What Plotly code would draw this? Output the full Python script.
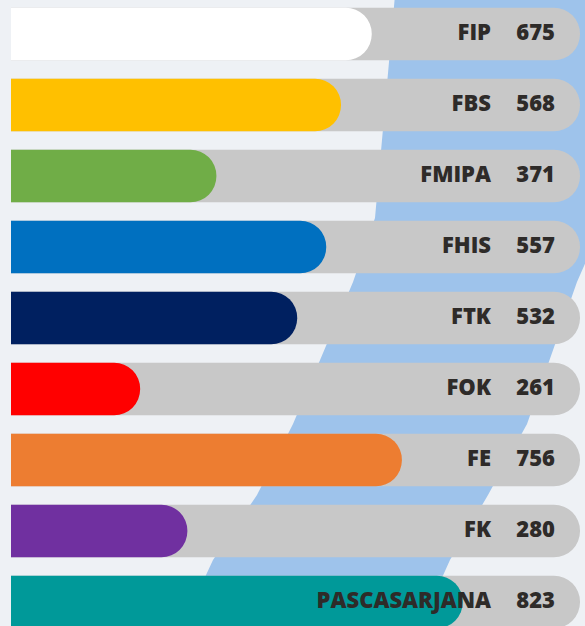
import plotly.graph_objects as go

# ---- data ----
faculties = ["FIP", "FBS", "FMIPA", "FHIS", "FTK", "FOK", "FE", "FK", "PASCASARJANA"]
counts = [675, 568, 371, 557, 532, 261, 756, 280, 823]
# length of the coloured fill, as % of the grey track (as drawn in the infographic)
bar_fill_pct = [63.4, 58.0, 36.1, 55.4, 50.3, 22.7, 68.7, 31.0, 79.4]
track_pct = [100] * len(faculties)

colors = ["#ffffff", "#ffc000", "#70ad47", "#0070c0", "#002060",
          "#ff0000", "#ed7d31", "#7030a0", "#009999"]

W, H = 585, 626
L, R = 11, 5
PW = W - L - R


def px_to_paper_x(px):
    return (px - L) / PW


def px_to_paper_y(py):
    return 1 - py / H


fig = go.Figure()

# grey tracks
fig.add_trace(go.Bar(
    y=faculties, x=track_pct, orientation="h",
    marker=dict(color="#c8c8c8", cornerradius="50%", line=dict(width=0)),
    width=0.74, hoverinfo="skip", showlegend=False, yaxis="y",
))
# coloured fills (on an overlaid axis so they are drawn independently)
fig.add_trace(go.Bar(
    y=faculties, x=bar_fill_pct, orientation="h",
    marker=dict(color=colors, cornerradius="50%", line=dict(width=0)),
    width=0.74, hoverinfo="skip", showlegend=False, yaxis="y2",
))

font = dict(family="Open Sans", size=22, color="#2e2b29", weight=800)
label_x = (491 - L) / PW * 100
num_x = (555 - L) / PW * 100

fig.add_trace(go.Scatter(
    y=faculties, x=[label_x] * len(faculties), mode="text",
    text=faculties, textposition="middle left", textfont=font,
    hoverinfo="skip", showlegend=False, yaxis="y2",
))
fig.add_trace(go.Scatter(
    y=faculties, x=[num_x] * len(faculties), mode="text",
    text=[str(c) for c in counts], textposition="middle left", textfont=font,
    hoverinfo="skip", showlegend=False, yaxis="y2",
))

# background blue diagonal band
left_edge = [(395, -5), (375, 218), (353, 282), (293, 424), (257, 495), (213, 560), (180, 631)]
right_edge = [(600, -5), (600, 230), (577, 282), (527, 424), (488, 495), (450, 560), (418, 631)]
pts = left_edge + right_edge[::-1]
path = "M " + " L ".join(f"{px_to_paper_x(x):.4f},{px_to_paper_y(y):.4f}" for x, y in pts) + " Z"

shapes = [
    dict(type="path", path=path, xref="paper", yref="paper",
         fillcolor="#9ec3eb", line=dict(width=0), layer="below"),
]

yrange = [(H - 34) / 71, -34 / 71]
fig.update_layout(
    width=W, height=H,
    margin=dict(l=L, r=R, t=0, b=0),
    paper_bgcolor="#eef1f5",
    plot_bgcolor="rgba(0,0,0,0)",
    barmode="overlay",
    barcornerradius="50%",
    shapes=shapes,
    xaxis=dict(range=[0, 100], visible=False, fixedrange=True),
    yaxis=dict(range=yrange, visible=False, fixedrange=True,
               categoryorder="array", categoryarray=faculties),
    yaxis2=dict(range=yrange, visible=False, fixedrange=True, overlaying="y",
                categoryorder="array", categoryarray=faculties),
)

fig.write_html("out.html", config={"displayModeBar": False},
               post_script="document.body.style.margin='0';document.body.style.overflow='hidden';")
